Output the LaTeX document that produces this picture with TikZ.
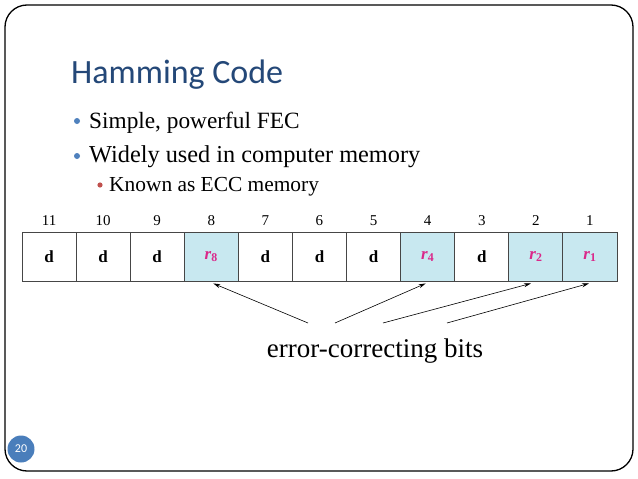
\documentclass[tikz,border=0pt]{standalone}
\usepackage{fontspec}
\setmainfont{Liberation Serif}
\newfontfamily\titlefont{Carlito}
\usetikzlibrary{calc,arrows.meta}
\definecolor{titleblue}{RGB}{36,72,120}
\definecolor{bulletblue}{RGB}{79,129,189}
\definecolor{bulletred}{RGB}{192,80,77}
\definecolor{cellfill}{RGB}{200,232,240}
\definecolor{cellline}{RGB}{70,70,70}
\definecolor{rmag}{RGB}{218,40,138}
\definecolor{circblue}{RGB}{74,126,187}
\tikzset{
  cell/.style={draw=cellline,line width=0.9pt,minimum width=54.09pt,minimum height=49pt,inner sep=0pt,font=\fontsize{17}{17}\selectfont\bfseries},
  pcell/.style={cell,fill=cellfill,text=rmag},
  numlab/.style={font=\fontsize{15}{15}\selectfont,anchor=base},
  bul/.style={anchor=base west,inner sep=0pt,font=\fontsize{24}{24}\selectfont},
  ptr/.style={-{Stealth[length=7pt,width=4pt]},line width=0.6pt}
}
\newcommand{\rsub}[1]{\textit{\fontsize{17}{17}\selectfont r}\textsubscript{\bfseries #1}}
\begin{document}
\begin{tikzpicture}[x=1pt,y=-1pt]
\useasboundingbox (0,0) rectangle (638,479);
\fill[white] (0,0) rectangle (638,479);
% frame
\draw[line width=1.3pt,rounded corners=22pt] (5,5) rectangle (633,471);
% title
\node[anchor=base west,inner sep=0pt,text=titleblue,font=\titlefont\fontsize{34}{34}\selectfont] (title) at (71,83) {Hamming Code};
% bullets
\fill[bulletblue] (77,121) circle (3pt);
\node[bul,font=\fontsize{23.3}{24}\selectfont] (b1) at (89,128) {Simple, powerful FEC};
\fill[bulletblue] (77,156) circle (3pt);
\node[bul,font=\fontsize{24.3}{24}\selectfont] (b2) at (89,162) {Widely used in computer memory};
\fill[bulletred] (100,185) circle (2.6pt);
\node[bul,font=\fontsize{21.4}{21.4}\selectfont] (b3) at (109,191) {Known as ECC memory};
% cells
\foreach \i/\lab/\num in {0/d/11,1/d/10,2/d/9,4/d/7,5/d/6,6/d/5,8/d/3}{
  \node[cell] (c\num) at ({22+54.09*(\i+0.5)},256.5) {\lab};
}
\node[pcell] (c8) at ({22+54.09*3.5},256.5) {\rsub{8}};
\node[pcell] (c4) at ({22+54.09*7.5},256.5) {\rsub{4}};
\node[pcell] (c2) at ({22+54.09*9.5},256.5) {\rsub{2}};
\node[pcell] (c1) at ({22+54.09*10.5},256.5) {\rsub{1}};
\foreach \num in {11,10,9,8,7,6,5,4,3,2,1}{
  \node[numlab] (n\num) at ($(c\num.north)+(0,-6)$) {\num};
}
% arrows
\coordinate (t1) at (308,323);
\coordinate (t2) at (335,323);
\coordinate (t3) at (383,323);
\coordinate (t4) at (447,323);
\draw[ptr] (t1) -- ($(c8.south)+(2,2)$);
\draw[ptr] (t2) -- ($(c4.south)+(-2,2)$);
\draw[ptr] (t3) -- ($(c2.south)+(-5,2)$);
\draw[ptr] (t4) -- ($(c1.south)+(-1,2)$);
\node[anchor=base,inner sep=0pt,font=\fontsize{27}{27}\selectfont] (lab) at (375,357) {error-correcting bits};
% page number
\node[circle,fill=circblue,minimum size=27pt,inner sep=0pt,text=white,font=\titlefont\fontsize{12}{12}\selectfont] (pg) at (21,449) {20};
\end{tikzpicture}
\end{document}
